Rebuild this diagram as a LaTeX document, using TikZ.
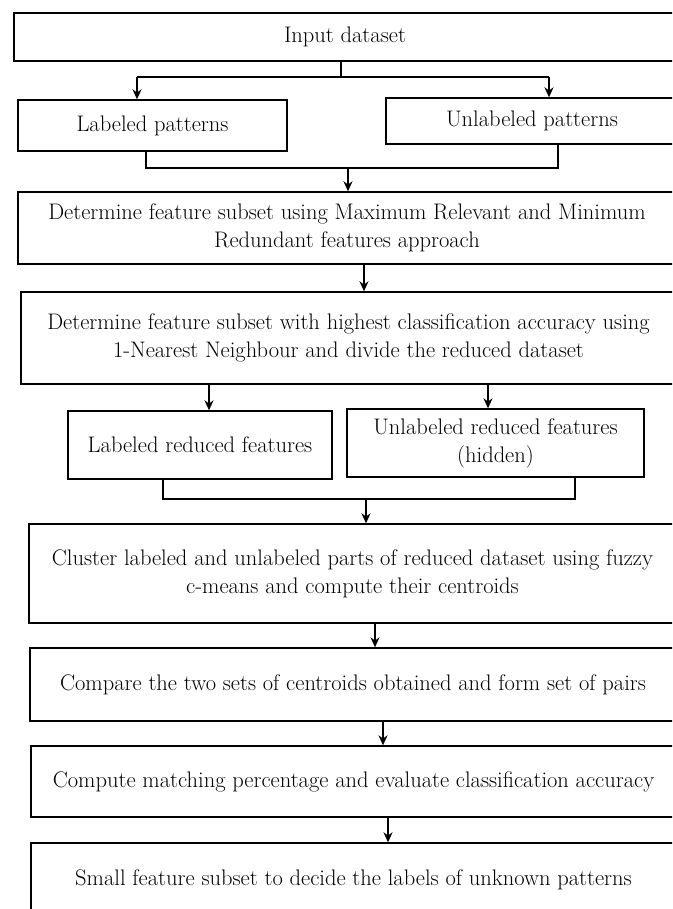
\documentclass[tikz,border=0pt]{standalone}
\usetikzlibrary{positioning,arrows.meta}
\begin{document}
\begin{tikzpicture}[x=1pt, y=-1pt, >={Stealth[length=10pt,width=9pt]}, line width=1.4pt,
  box/.style={draw, rectangle, align=center, inner sep=0pt, font=\fontsize{22.5}{28}\selectfont}]
\useasboundingbox (0,0) rectangle (672,909);
\clip (0,0) rectangle (672,909);

% boxes
\node[box, minimum width=662pt, minimum height=48pt] (inp) at (345,37) {Input dataset};
\node[box, minimum width=269pt, minimum height=51pt] (lab) at (152.5,125.5) {Labeled patterns};
\node[box, minimum width=292pt, minimum height=46pt] (unl) at (532,121) {Unlabeled patterns};
\node[box, minimum width=658pt, minimum height=72pt] (mrmr) at (347,228)
  {Determine feature subset using Maximum Relevant and Minimum\\Redundant features approach};
\node[box, minimum width=655pt, minimum height=92pt] (nn) at (348.5,338)
  {Determine feature subset with highest classification accuracy using\\1-Nearest Neighbour and divide the reduced dataset};
\node[box, minimum width=264pt, minimum height=68pt] (lred) at (200,445) {Labeled reduced features};
\node[box, minimum width=297pt, minimum height=68pt] (ured) at (495.5,443) {Unlabeled reduced features\\(hidden)};
\node[box, minimum width=647pt, minimum height=99pt] (clus) at (352.5,573.5)
  {Cluster labeled and unlabeled parts of reduced dataset using fuzzy\\c-means and compute their centroids};
\node[box, minimum width=646pt, minimum height=73pt] (cmp) at (353,684.5)
  {Compare the two sets of centroids obtained and form set of pairs};
\node[box, minimum width=645pt, minimum height=71pt] (acc) at (353.5,781.5)
  {Compute matching percentage and evaluate classification accuracy};
\node[box, minimum width=645pt, minimum height=74pt] (small) at (353.5,880)
  {Small feature subset to decide the labels of unknown patterns};

% split after input
\coordinate (s1) at (341,77);
\coordinate (s1l) at (137,77);
\coordinate (s1r) at (549,77);
\draw (inp.south -| s1) -- (s1);
\draw (s1l) -- (s1r);
\draw[->] (s1l) -- (s1l |- lab.north);
\draw[->] (s1r) -- (s1r |- unl.north);

% join of patterns
\coordinate (j1l) at (146,168);
\coordinate (j1r) at (558,168);
\coordinate (j1) at (348,168);
\draw (lab.south -| j1l) -- (j1l) -- (j1r) -- (unl.south -| j1r);
\draw[->] (j1) -- (j1 |- mrmr.north);

\coordinate (a1) at (364,264);
\draw[->] (mrmr.south -| a1) -- (nn.north -| a1);

% split of reduced dataset
\coordinate (s2l) at (209,384);
\coordinate (s2r) at (488,384);
\draw[->] (nn.south -| s2l) -- (lred.north -| s2l);
\draw[->] (nn.south -| s2r) -- (ured.north -| s2r);

% join of reduced features
\coordinate (j2l) at (163,499);
\coordinate (j2r) at (575,499);
\coordinate (j2) at (366,499);
\draw (lred.south -| j2l) -- (j2l) -- (j2r) -- (ured.south -| j2r);
\draw[->] (j2) -- (j2 |- clus.north);

\coordinate (a2) at (375,623);
\coordinate (a3) at (383,721);
\coordinate (a4) at (388,817);
\draw[->] (clus.south -| a2) -- (cmp.north -| a2);
\draw[->] (cmp.south -| a3) -- (acc.north -| a3);
\draw[->] (acc.south -| a4) -- (small.north -| a4);
\end{tikzpicture}
\end{document}
